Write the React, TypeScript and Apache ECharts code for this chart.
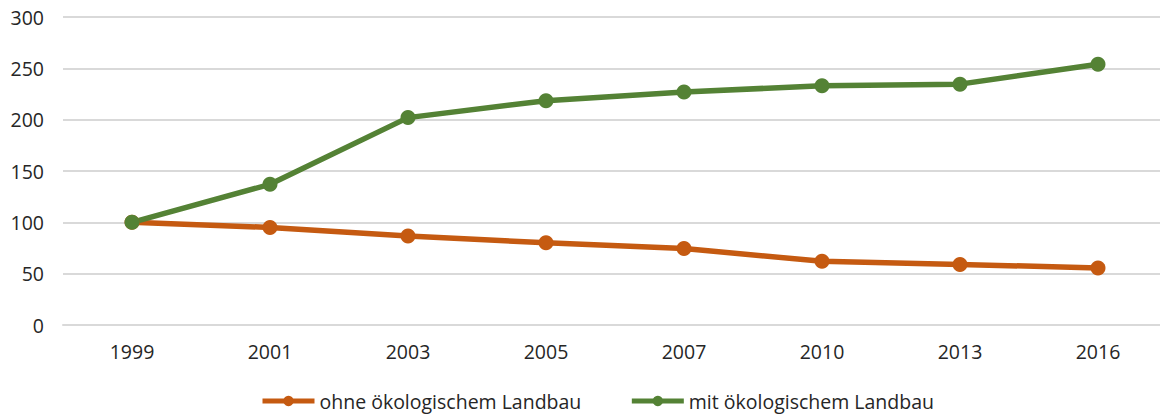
import React, { useEffect, useRef } from "react";
import * as echarts from "echarts";

const years = ["1999", "2001", "2003", "2005", "2007", "2010", "2013", "2016"];
const ohne = [100, 95, 86.7, 80, 74.5, 62, 59, 55.6];
const mit = [100, 137, 202, 218.5, 227, 233, 234.6, 254];
const seriesNames = ["ohne ökologischem Landbau", "mit ökologischem Landbau"];
const colors = ["#C55A11", "#548235"];

export default function App() {
  const ref = useRef<HTMLDivElement>(null);
  useEffect(() => {
    document.body.style.margin = "0";
    const chart = echarts.init(ref.current!, null, { renderer: "svg" });
    const font = "'Open Sans', 'Noto Sans', sans-serif";
    chart.setOption({
      animation: false,
      textStyle: { fontFamily: font },
      grid: {
        left: 63,
        top: 17,
        right: -7,
        height: 308,
        containLabel: false,
        outerBoundsMode: "none",
      },
      legend: {
        bottom: 5,
        left: 260,
        padding: 0,
        itemWidth: 52,
        itemHeight: 13,
        itemGap: 48,
        lineStyle: { width: 5 },
        textStyle: { fontSize: 19.5, color: "#262626", fontFamily: font },
        data: seriesNames,
      },
      xAxis: {
        type: "category",
        data: years,
        boundaryGap: true,
        axisLine: { show: true, lineStyle: { color: "#d9d9d9", width: 2 } },
        axisTick: { show: false },
        axisLabel: { fontSize: 19.5, color: "#262626", margin: 16, fontFamily: font },
      },
      yAxis: {
        type: "value",
        min: 0,
        max: 300,
        interval: 50,
        axisLine: { show: false },
        axisTick: { show: false },
        splitLine: { lineStyle: { color: "#d9d9d9", width: 2 } },
        axisLabel: { fontSize: 19.5, color: "#262626", margin: 19, fontFamily: font },
      },
      series: [
        {
          name: seriesNames[0],
          type: "line",
          data: ohne,
          color: colors[0],
          symbol: "circle",
          symbolSize: 15,
          lineStyle: { width: 5.5, color: colors[0] },
          itemStyle: { color: colors[0] },
        },
        {
          name: seriesNames[1],
          type: "line",
          data: mit,
          color: colors[1],
          symbol: "circle",
          symbolSize: 15,
          lineStyle: { width: 5.5, color: colors[1] },
          itemStyle: { color: colors[1] },
        },
      ],
    });
    return () => chart.dispose();
  }, []);
  return (
    <div
      ref={ref}
      style={{ position: "absolute", left: 0, top: 0, width: 1160, height: 416, background: "#fff" }}
    />
  );
}
